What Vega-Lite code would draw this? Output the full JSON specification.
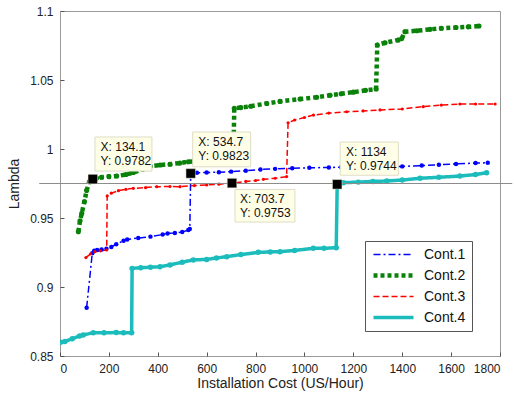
{
  "$schema": "https://vega.github.io/schema/vega-lite/v6.json",
  "width": 440,
  "height": 345,
  "autosize": {"type": "none"},
  "padding": {"left": 60, "top": 11, "right": 14, "bottom": 45},
  "background": "white",
  "config": {
    "font": "Liberation Sans",
    "view": {"stroke": "#9a9a9a", "strokeWidth": 1},
    "axis": {
      "domain": false,
      "grid": false,
      "tickSize": -4,
      "tickColor": "#555555",
      "labelFont": "Liberation Sans",
      "labelFontSize": 12,
      "labelColor": "#222222",
      "titleFont": "Liberation Sans",
      "titleFontSize": 14,
      "titleFontWeight": "normal",
      "titleColor": "#222222"
    }
  },
  "datasets": {
    "curves": [
      {"s": "Cont.1", "x": 109, "y": 0.885},
      {"s": "Cont.1", "x": 132, "y": 0.9245},
      {"s": "Cont.1", "x": 140, "y": 0.9262},
      {"s": "Cont.1", "x": 152, "y": 0.9268},
      {"s": "Cont.1", "x": 170, "y": 0.9272},
      {"s": "Cont.1", "x": 190, "y": 0.9278},
      {"s": "Cont.1", "x": 210, "y": 0.929},
      {"s": "Cont.1", "x": 230, "y": 0.931},
      {"s": "Cont.1", "x": 260, "y": 0.9335},
      {"s": "Cont.1", "x": 275, "y": 0.9345},
      {"s": "Cont.1", "x": 320, "y": 0.9355},
      {"s": "Cont.1", "x": 370, "y": 0.9365},
      {"s": "Cont.1", "x": 420, "y": 0.938},
      {"s": "Cont.1", "x": 440, "y": 0.9388},
      {"s": "Cont.1", "x": 470, "y": 0.9392},
      {"s": "Cont.1", "x": 500, "y": 0.9398},
      {"s": "Cont.1", "x": 525, "y": 0.9413},
      {"s": "Cont.1", "x": 531, "y": 0.942},
      {"s": "Cont.1", "x": 534.7, "y": 0.9823},
      {"s": "Cont.1", "x": 560, "y": 0.9828},
      {"s": "Cont.1", "x": 600, "y": 0.983},
      {"s": "Cont.1", "x": 650, "y": 0.9832},
      {"s": "Cont.1", "x": 700, "y": 0.9836},
      {"s": "Cont.1", "x": 760, "y": 0.9842},
      {"s": "Cont.1", "x": 820, "y": 0.9852},
      {"s": "Cont.1", "x": 880, "y": 0.9856},
      {"s": "Cont.1", "x": 950, "y": 0.986},
      {"s": "Cont.1", "x": 1020, "y": 0.9864},
      {"s": "Cont.1", "x": 1100, "y": 0.9866},
      {"s": "Cont.1", "x": 1150, "y": 0.9868},
      {"s": "Cont.1", "x": 1220, "y": 0.987},
      {"s": "Cont.1", "x": 1300, "y": 0.9872},
      {"s": "Cont.1", "x": 1400, "y": 0.9874},
      {"s": "Cont.1", "x": 1480, "y": 0.988},
      {"s": "Cont.1", "x": 1550, "y": 0.9886},
      {"s": "Cont.1", "x": 1620, "y": 0.9892},
      {"s": "Cont.1", "x": 1700, "y": 0.9898},
      {"s": "Cont.1", "x": 1750, "y": 0.99},

      {"s": "Cont.2", "x": 75, "y": 0.94},
      {"s": "Cont.2", "x": 82, "y": 0.948},
      {"s": "Cont.2", "x": 89, "y": 0.9534},
      {"s": "Cont.2", "x": 100, "y": 0.962},
      {"s": "Cont.2", "x": 109, "y": 0.97},
      {"s": "Cont.2", "x": 120, "y": 0.9763},
      {"s": "Cont.2", "x": 134.1, "y": 0.9782},
      {"s": "Cont.2", "x": 150, "y": 0.979},
      {"s": "Cont.2", "x": 170, "y": 0.9795},
      {"s": "Cont.2", "x": 200, "y": 0.98},
      {"s": "Cont.2", "x": 232, "y": 0.9804},
      {"s": "Cont.2", "x": 270, "y": 0.9815},
      {"s": "Cont.2", "x": 300, "y": 0.983},
      {"s": "Cont.2", "x": 340, "y": 0.9855},
      {"s": "Cont.2", "x": 370, "y": 0.9875},
      {"s": "Cont.2", "x": 409, "y": 0.9884},
      {"s": "Cont.2", "x": 450, "y": 0.989},
      {"s": "Cont.2", "x": 490, "y": 0.9898},
      {"s": "Cont.2", "x": 525, "y": 0.9908},
      {"s": "Cont.2", "x": 560, "y": 0.9912},
      {"s": "Cont.2", "x": 600, "y": 0.9914},
      {"s": "Cont.2", "x": 650, "y": 0.9918},
      {"s": "Cont.2", "x": 690, "y": 0.9922},
      {"s": "Cont.2", "x": 709, "y": 0.9925},
      {"s": "Cont.2", "x": 713, "y": 1.0295},
      {"s": "Cont.2", "x": 740, "y": 1.03},
      {"s": "Cont.2", "x": 780, "y": 1.031},
      {"s": "Cont.2", "x": 846, "y": 1.033},
      {"s": "Cont.2", "x": 900, "y": 1.0345},
      {"s": "Cont.2", "x": 982, "y": 1.0362},
      {"s": "Cont.2", "x": 1050, "y": 1.0375},
      {"s": "Cont.2", "x": 1105, "y": 1.039},
      {"s": "Cont.2", "x": 1150, "y": 1.04},
      {"s": "Cont.2", "x": 1200, "y": 1.0412},
      {"s": "Cont.2", "x": 1250, "y": 1.0425},
      {"s": "Cont.2", "x": 1293, "y": 1.0435},
      {"s": "Cont.2", "x": 1298, "y": 1.0754},
      {"s": "Cont.2", "x": 1330, "y": 1.077},
      {"s": "Cont.2", "x": 1384, "y": 1.079},
      {"s": "Cont.2", "x": 1398, "y": 1.08},
      {"s": "Cont.2", "x": 1411, "y": 1.085},
      {"s": "Cont.2", "x": 1460, "y": 1.0857},
      {"s": "Cont.2", "x": 1514, "y": 1.0867},
      {"s": "Cont.2", "x": 1560, "y": 1.0875},
      {"s": "Cont.2", "x": 1620, "y": 1.088},
      {"s": "Cont.2", "x": 1670, "y": 1.0885},
      {"s": "Cont.2", "x": 1714, "y": 1.0891},

      {"s": "Cont.3", "x": 106, "y": 0.9213},
      {"s": "Cont.3", "x": 125, "y": 0.924},
      {"s": "Cont.3", "x": 143, "y": 0.9256},
      {"s": "Cont.3", "x": 165, "y": 0.9262},
      {"s": "Cont.3", "x": 191, "y": 0.9268},
      {"s": "Cont.3", "x": 193, "y": 0.966},
      {"s": "Cont.3", "x": 210, "y": 0.968},
      {"s": "Cont.3", "x": 239, "y": 0.9698},
      {"s": "Cont.3", "x": 270, "y": 0.9708},
      {"s": "Cont.3", "x": 300, "y": 0.9715},
      {"s": "Cont.3", "x": 350, "y": 0.972},
      {"s": "Cont.3", "x": 396, "y": 0.9727},
      {"s": "Cont.3", "x": 450, "y": 0.9728},
      {"s": "Cont.3", "x": 491, "y": 0.9727},
      {"s": "Cont.3", "x": 550, "y": 0.9735},
      {"s": "Cont.3", "x": 600, "y": 0.974},
      {"s": "Cont.3", "x": 650, "y": 0.9745},
      {"s": "Cont.3", "x": 703.7, "y": 0.9753},
      {"s": "Cont.3", "x": 760, "y": 0.9765},
      {"s": "Cont.3", "x": 800, "y": 0.9772},
      {"s": "Cont.3", "x": 832, "y": 0.978},
      {"s": "Cont.3", "x": 880, "y": 0.9788},
      {"s": "Cont.3", "x": 927, "y": 0.98},
      {"s": "Cont.3", "x": 933, "y": 1.019},
      {"s": "Cont.3", "x": 960, "y": 1.021},
      {"s": "Cont.3", "x": 1000, "y": 1.0228},
      {"s": "Cont.3", "x": 1037, "y": 1.0246},
      {"s": "Cont.3", "x": 1100, "y": 1.026},
      {"s": "Cont.3", "x": 1173, "y": 1.027},
      {"s": "Cont.3", "x": 1240, "y": 1.0276},
      {"s": "Cont.3", "x": 1309, "y": 1.0283},
      {"s": "Cont.3", "x": 1400, "y": 1.029},
      {"s": "Cont.3", "x": 1486, "y": 1.0307},
      {"s": "Cont.3", "x": 1560, "y": 1.0318},
      {"s": "Cont.3", "x": 1636, "y": 1.0326},
      {"s": "Cont.3", "x": 1700, "y": 1.0326},
      {"s": "Cont.3", "x": 1780, "y": 1.0326},

      {"s": "Cont.4", "x": 2, "y": 0.86},
      {"s": "Cont.4", "x": 20, "y": 0.8605},
      {"s": "Cont.4", "x": 50, "y": 0.8625},
      {"s": "Cont.4", "x": 80, "y": 0.8645},
      {"s": "Cont.4", "x": 95, "y": 0.8652},
      {"s": "Cont.4", "x": 136, "y": 0.8669},
      {"s": "Cont.4", "x": 180, "y": 0.8668},
      {"s": "Cont.4", "x": 230, "y": 0.867},
      {"s": "Cont.4", "x": 260, "y": 0.8668},
      {"s": "Cont.4", "x": 293, "y": 0.8669},
      {"s": "Cont.4", "x": 295, "y": 0.9135},
      {"s": "Cont.4", "x": 330, "y": 0.914},
      {"s": "Cont.4", "x": 370, "y": 0.9143},
      {"s": "Cont.4", "x": 409, "y": 0.9147},
      {"s": "Cont.4", "x": 450, "y": 0.916},
      {"s": "Cont.4", "x": 500, "y": 0.918},
      {"s": "Cont.4", "x": 545, "y": 0.9196},
      {"s": "Cont.4", "x": 600, "y": 0.92},
      {"s": "Cont.4", "x": 640, "y": 0.921},
      {"s": "Cont.4", "x": 682, "y": 0.922},
      {"s": "Cont.4", "x": 740, "y": 0.9235},
      {"s": "Cont.4", "x": 811, "y": 0.9251},
      {"s": "Cont.4", "x": 860, "y": 0.9254},
      {"s": "Cont.4", "x": 900, "y": 0.9256},
      {"s": "Cont.4", "x": 960, "y": 0.9265},
      {"s": "Cont.4", "x": 1036, "y": 0.928},
      {"s": "Cont.4", "x": 1080, "y": 0.928},
      {"s": "Cont.4", "x": 1130, "y": 0.9285},
      {"s": "Cont.4", "x": 1134, "y": 0.9744},
      {"s": "Cont.4", "x": 1159, "y": 0.9756},
      {"s": "Cont.4", "x": 1220, "y": 0.976},
      {"s": "Cont.4", "x": 1280, "y": 0.9765},
      {"s": "Cont.4", "x": 1337, "y": 0.9768},
      {"s": "Cont.4", "x": 1400, "y": 0.9775},
      {"s": "Cont.4", "x": 1473, "y": 0.9788},
      {"s": "Cont.4", "x": 1550, "y": 0.9795},
      {"s": "Cont.4", "x": 1636, "y": 0.9804},
      {"s": "Cont.4", "x": 1700, "y": 0.9815},
      {"s": "Cont.4", "x": 1745, "y": 0.9828}
    ],
    "tips": [
      {"px": 134.1, "py": 0.9782, "bx1": 143, "bx2": 376, "by1": 1.0087, "by2": 0.984, "tx": 166, "ty": 1.005, "label": "X: 134.1\nY: 0.9782"},
      {"px": 534.7, "py": 0.9823, "bx1": 543, "bx2": 780, "by1": 1.0123, "by2": 0.9871, "tx": 566, "ty": 1.0087, "label": "X: 534.7\nY: 0.9823"},
      {"px": 703.7, "py": 0.9753, "bx1": 716, "bx2": 961, "by1": 0.9707, "by2": 0.9471, "tx": 736, "ty": 0.9676, "label": "X: 703.7\nY: 0.9753"},
      {"px": 1134, "py": 0.9744, "bx1": 1146, "bx2": 1384, "by1": 1.005, "by2": 0.981, "tx": 1170, "ty": 1.0014, "label": "X: 1134\nY: 0.9744"}
    ],
    "ref": [{"x1": -85, "x2": 1850, "y": 0.975}]
  },
  "layer": [
    {
      "data": {"name": "curves"},
      "mark": {"type": "line", "clip": true},
      "encoding": {
        "x": {"field": "x", "type": "quantitative", "scale": {"domain": [0, 1800], "nice": false, "zero": false},
              "axis": {"title": "Installation Cost (US/Hour)", "values": [0,200,400,600,800,1000,1200,1400,1600,1800], "format": "d", "labelPadding": 11, "titlePadding": 2}},
        "y": {"field": "y", "type": "quantitative", "scale": {"domain": [0.85, 1.1], "nice": false, "zero": false},
              "axis": {"title": "Lambda", "values": [0.85,0.9,0.95,1,1.05,1.1], "labelPadding": 11, "titlePadding": 8, "format": "~g"}},
        "color": {"field": "s", "type": "nominal", "title": null,
                  "scale": {"domain": ["Cont.1","Cont.2","Cont.3","Cont.4"], "range": ["#0000ff","#0a820a","#ff0000","#1cbcbc"]},
                  "legend": {"orient": "none", "legendX": 305, "legendY": 230, "symbolType": "stroke", "symbolSize": 1600,
                             "clipHeight": 15,
                             "labelFontSize": 14, "labelColor": "#111111", "labelFont": "Liberation Sans",
                             "strokeColor": "#555555", "fillColor": "white", "padding": 6, "rowPadding": 6, "labelOffset": 8}},
        "strokeDash": {"field": "s", "type": "nominal",
                       "scale": {"type": "ordinal", "domain": ["Cont.1","Cont.2","Cont.3","Cont.4"], "range": [[7,3,2,3],[4,3],[6,3],[1,0]]}},
        "strokeWidth": {"field": "s", "type": "nominal",
                        "scale": {"type": "ordinal", "domain": ["Cont.1","Cont.2","Cont.3","Cont.4"], "range": [1.5,4.5,1.5,3.5]}}
      }
    },
    {
      "data": {"name": "curves"},
      "transform": [{"filter": "datum.s === 'Cont.1'"}],
      "mark": {"type": "circle", "opacity": 1, "clip": true, "color": "#0000ff", "size": 20},
      "encoding": {"x": {"field": "x", "type": "quantitative"}, "y": {"field": "y", "type": "quantitative"}}
    },
    {
      "data": {"name": "curves"},
      "transform": [{"filter": "datum.s === 'Cont.2'"}],
      "mark": {"type": "circle", "opacity": 1, "clip": true, "color": "#0a820a", "size": 26},
      "encoding": {"x": {"field": "x", "type": "quantitative"}, "y": {"field": "y", "type": "quantitative"}}
    },
    {
      "data": {"name": "curves"},
      "transform": [{"filter": "datum.s === 'Cont.3'"}],
      "mark": {"type": "circle", "opacity": 1, "clip": true, "color": "#ff0000", "size": 10},
      "encoding": {"x": {"field": "x", "type": "quantitative"}, "y": {"field": "y", "type": "quantitative"}}
    },
    {
      "data": {"name": "curves"},
      "transform": [{"filter": "datum.s === 'Cont.4'"}],
      "mark": {"type": "circle", "opacity": 1, "clip": true, "color": "#1cbcbc", "size": 30},
      "encoding": {"x": {"field": "x", "type": "quantitative"}, "y": {"field": "y", "type": "quantitative"}}
    },
    {
      "data": {"name": "ref"},
      "mark": {"type": "rule", "color": "#8c8c8c", "strokeWidth": 1, "clip": false},
      "encoding": {
        "x": {"field": "x1", "type": "quantitative"},
        "x2": {"field": "x2"},
        "y": {"field": "y", "type": "quantitative"}
      }
    },
    {
      "data": {"name": "tips"},
      "mark": {"type": "rect", "fill": "#ffffe8", "stroke": "#dedcc4", "strokeWidth": 1},
      "encoding": {
        "x": {"field": "bx1", "type": "quantitative"},
        "x2": {"field": "bx2"},
        "y": {"field": "by1", "type": "quantitative"},
        "y2": {"field": "by2"}
      }
    },
    {
      "data": {"name": "tips"},
      "mark": {"type": "text", "align": "left", "baseline": "top", "fontSize": 12, "lineHeight": 14, "lineBreak": "\n", "color": "#111111", "font": "Liberation Sans"},
      "encoding": {
        "x": {"field": "tx", "type": "quantitative"},
        "y": {"field": "ty", "type": "quantitative"},
        "text": {"field": "label"}
      }
    },
    {
      "data": {"name": "tips"},
      "mark": {"type": "square", "filled": true, "color": "black", "size": 90, "opacity": 1, "stroke": "#e8e6c8", "strokeWidth": 0.5},
      "encoding": {
        "x": {"field": "px", "type": "quantitative"},
        "y": {"field": "py", "type": "quantitative"}
      }
    }
  ]
}
